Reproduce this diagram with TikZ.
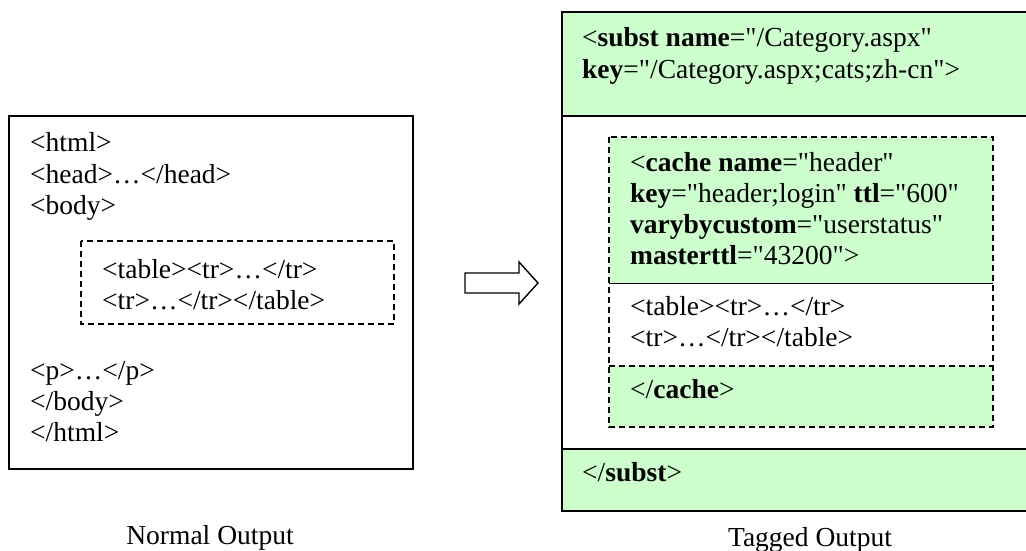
\documentclass[tikz,border=0pt]{standalone}
\usepackage{fontspec}
\setmainfont{Liberation Serif}
% same face without the TeX input mapping, so " stays a straight quote
\newfontfamily\plainquotes{Liberation Serif}
\definecolor{tagfill}{HTML}{CCFFCC}
\newcommand\sq{{\plainquotes"}}
\begin{document}
\begin{tikzpicture}[x=1pt,y=-1pt,
  txt/.style={anchor=base west, inner sep=0pt, font=\fontsize{27.5}{31}\selectfont},
  caption/.style={anchor=base, inner sep=0pt, font=\fontsize{27.5}{31}\selectfont},
  frame/.style={draw=black, line width=1.6pt},
  divider/.style={draw=black, line width=1pt},
  dashframe/.style={draw=black, line width=1.4pt, dash pattern=on 6pt off 4pt}]
\useasboundingbox (0,0) rectangle (1026,551);

% ---- plain page ----
\draw[frame] (9,116) rectangle (413,469);
\draw[dashframe] (81,241) rectangle (394,324);
\node[txt] (html)   at (30,151) {<html>};
\node[txt] (head)   at (30,183) {<head>…</head>};
\node[txt] (body)   at (30,214) {<body>};
\node[txt] (tab1)   at (102,278) {<table><tr>…</tr>};
\node[txt] (tab2)   at (102,309) {<tr>…</tr></table>};
\node[txt] (para)   at (30,379) {<p>…</p>};
\node[txt] (ebody)  at (30,410) {</body>};
\node[txt] (ehtml)  at (30,441) {</html>};
\node[caption] (normal) at (210,544) {Normal Output};

% ---- block arrow ----
\draw[line width=1.4pt, fill=white, line join=miter]
  (465,273) -- (519,273) -- (519,262) -- (538,283) -- (519,304) -- (519,293) -- (465,293) -- cycle;

% ---- tagged page ----
\fill[tagfill] (562,12) rectangle (1040,116);
\fill[tagfill] (562,449) rectangle (1040,511);
\draw[frame] (1040,12) -- (562,12) -- (562,511) -- (1040,511);
\draw[frame] (562,116) -- (1040,116);
\draw[frame] (562,449) -- (1040,449);

\fill[tagfill] (609,137) rectangle (993,283);
\fill[tagfill] (609,366) rectangle (993,427);
\draw[divider] (609,283) -- (993,283);
\draw[dashframe] (609,366) -- (993,366);
\draw[dashframe] (609,137) rectangle (993,427);

\node[txt] (subst1) at (582,47) {<\textbf{subst name}=\sq/Category.aspx\sq};
\node[txt] (subst2) at (582,79) {\textbf{key}=\sq/Category.aspx;cats;zh-cn\sq>};
\node[txt] (cache1) at (630,171) {<\textbf{cache name}=\sq header\sq};
\node[txt] (cache2) at (630,202) {\textbf{key}=\sq header;login\sq{} \textbf{ttl}=\sq 600\sq};
\node[txt] (cache3) at (630,233) {\textbf{varybycustom}=\sq userstatus\sq};
\node[txt] (cache4) at (630,264) {\textbf{masterttl}=\sq 43200\sq>};
\node[txt] (ttab1)  at (630,315) {<table><tr>…</tr>};
\node[txt] (ttab2)  at (630,346) {<tr>…</tr></table>};
\node[txt] (ecache) at (630,398) {</\textbf{cache}>};
\node[txt] (esubst) at (582,481) {</\textbf{subst}>};
\node[caption] (tagged) at (810,546) {Tagged Output};
\end{tikzpicture}
\end{document}
